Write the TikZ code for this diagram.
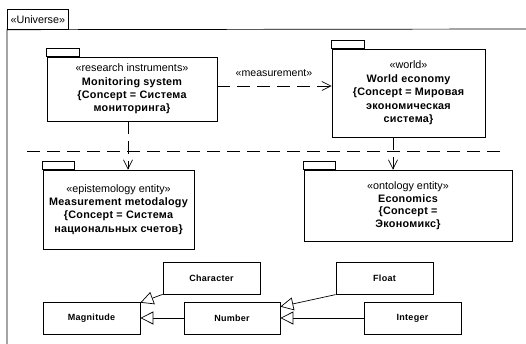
\documentclass[tikz,border=0pt]{standalone}
\usepackage{fontspec}
\setmainfont{Liberation Sans}
\usetikzlibrary{arrows.meta}
\newcommand\bnm[1]{{\bfseries\addfontfeature{LetterSpace=2.5}#1}}
\begin{document}
\begin{tikzpicture}[x=1pt,y=-1pt,
 ln/.style={line width=0.7pt},
 pkg/.style={draw, ln, align=center, inner sep=0pt, font=\fontsize{10.8}{13.4}\selectfont},
 tab/.style={draw, ln, minimum width=33pt, minimum height=8pt, inner sep=0pt, outer sep=0pt, anchor=south west},
 cls/.style={draw, ln, minimum width=97pt, minimum height=32pt, inner sep=0pt,
   font=\fontsize{9}{11}\selectfont\bfseries\addfontfeature{LetterSpace=3}},
 dep/.style={ln, dash pattern=on 13pt off 7pt, -{Straight Barb[length=9pt,width=9pt]}},
 gen/.style={ln, -{Triangle[open,length=13pt,width=13pt,fill=white]}},
 lbl/.style={font=\fontsize{10.6}{13}\selectfont, inner sep=0pt}
]
\useasboundingbox (0,0) rectangle (526,344);
% universe frame
\node[draw, ln, anchor=north west, minimum width=61pt, minimum height=20pt, inner sep=0pt,
  font=\fontsize{10.8}{13}\selectfont] (univ) at (7,9) {«Universe»};
\coordinate (frR) at (527,29);
\coordinate (frB) at (7,345);
\draw[ln] (frR) -- (univ.south west) -- (frB);

% packages
\node[pkg, minimum width=170pt, minimum height=64pt] (mon) at (132,89)
 {«research instruments»\\\bnm{Monitoring system}\\\bnm{\{Concept = Система}\\\bnm{мониторинга\}}};
\node[tab] (montab) at (mon.north west) {};

\node[pkg, minimum width=153pt, minimum height=88pt] (world) at (408.5,93)
 {«world»\\\bnm{World economy}\\\bnm{\{Concept = Мировая}\\\bnm{экономическая}\\\bnm{система\}}};
\node[tab] (worldtab) at (world.north west) {};

\node[pkg, minimum width=151pt, minimum height=79pt] (epi) at (118.5,209.5)
 {«epistemology entity»\\\bnm{Measurement metodalogy}\\\bnm{\{Concept = Система}\\\bnm{национальных счетов\}}};
\node[tab, minimum width=32pt] (epitab) at (epi.north west) {};

\node[pkg, minimum width=208pt, minimum height=71pt, font=\fontsize{10.8}{12.5}\selectfont] (econ) at (408,205.5)
 {«ontology entity»\\\bnm{Economics}\\\bnm{\{Concept =}\\\bnm{Экономикс\}}};
\node[tab, minimum width=32pt] (econtab) at (econ.north west) {};

% separator
\coordinate (sepL) at (27,151);
\coordinate (sepR) at (501,151);
\draw[ln, dash pattern=on 13pt off 7pt] (sepL) -- (sepR);

% dependencies
\coordinate (d1) at (128,86);
\coordinate (d2) at (393,0);
\draw[dep] (d1 |- mon.south) -- (d1 |- epi.north);
\draw[dep] (d2 |- world.south) -- (d2 |- econ.north);
\draw[dep] (mon.east |- d1) -- (world.west |- d1);
\node[lbl] (mlbl) at (274,73) {«measurement»};

% classes
\node[cls] (mag) at (91.5,318) {Magnitude};
\node[cls] (chr) at (211.5,278) {Character};
\node[cls, minimum width=96pt] (num) at (232,318) {Number};
\node[cls, minimum height=31.5pt] (flt) at (384.5,278.5) {Float};
\node[cls] (intg) at (412.5,318) {Integer};

\draw[gen] (chr.south west) -- ([yshift=-1pt]mag.north east);
\draw[gen] (num.west) -- (mag.east);
\draw[gen] (flt.south west) -- ([yshift=-5pt]num.north east);
\draw[gen] (intg.west) -- (num.east);
\end{tikzpicture}
\end{document}
